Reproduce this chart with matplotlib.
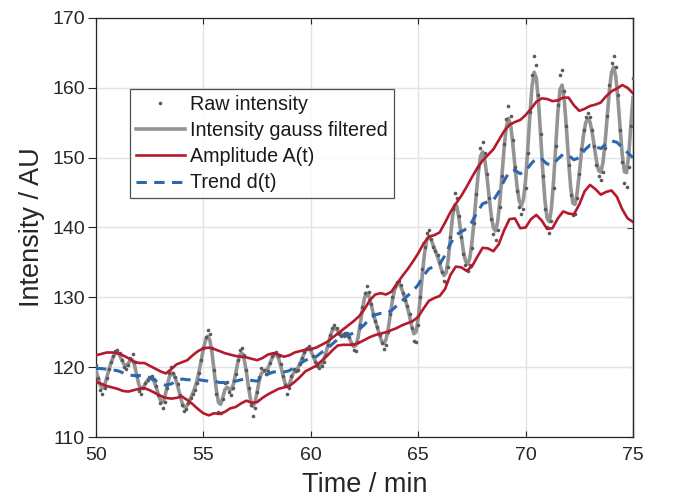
import numpy as np
import matplotlib
matplotlib.use("Agg")
import matplotlib.pyplot as plt

plt.rcParams['font.family'] = ['Liberation Sans', 'DejaVu Sans']

# ---- data ----
raw_start, raw_step = 50.0, 0.1
raw_intensity = [
    120.3, 118.5, 116.8, 116.2, 117.0, 118.5, 119.8, 120.8, 121.6, 122.3,
    122.5, 122.0, 121.0, 120.0, 119.8, 120.3, 121.3, 121.9, 120.8, 118.8,
    116.6, 116.2, 117.0, 117.8, 118.2, 118.6, 118.8, 118.3, 117.3, 116.0,
    114.9, 114.2, 115.0, 117.0, 119.2, 120.0, 119.2, 118.6, 117.6, 116.0,
    114.6, 113.7, 114.0, 114.8, 115.6, 116.2, 116.8, 117.8, 119.2, 121.0,
    122.8, 124.3, 125.3, 124.8, 122.8, 119.6, 116.2, 113.6, 113.5, 115.5,
    117.8, 117.9, 116.4, 116.0, 117.0, 119.0, 121.0, 122.5, 122.8, 121.8,
    119.6, 117.0, 114.6, 113.0, 114.2, 116.4, 118.6, 119.9, 119.6, 119.0,
    119.4, 120.6, 121.6, 122.1, 122.2, 121.6, 120.4, 118.8, 117.4, 116.2,
    117.0, 118.8, 119.8, 119.4, 119.6, 120.4, 121.3, 122.2, 122.8, 123.0,
    122.6, 121.6, 120.8, 120.2, 119.9, 120.2, 120.8, 121.8, 123.2, 124.6,
    125.6, 126.1, 125.6, 124.8, 124.5, 124.6, 124.9, 124.9, 124.3, 123.3,
    122.5, 122.3, 123.6, 126.0, 128.6, 130.6, 131.6, 130.8, 129.0, 127.6,
    126.6, 125.8, 124.6, 123.4, 122.6, 123.2, 125.0, 127.6, 130.0, 131.6,
    132.2, 132.4, 131.8, 130.6, 129.6, 128.8, 127.6, 125.6, 123.8, 123.6,
    126.0, 130.0, 134.0, 137.2, 139.2, 139.6, 138.4, 137.2, 136.6, 136.0,
    135.0, 133.6, 132.4, 132.2, 134.4, 138.6, 142.6, 144.9, 144.2, 141.6,
    138.6, 136.2, 134.6, 133.8, 134.6, 137.0, 140.6, 144.8, 148.6, 151.4,
    152.3, 150.6, 147.6, 144.2, 141.2, 139.0, 138.2, 139.6, 143.0, 147.4,
    152.0, 155.6, 157.4, 156.0, 152.6, 148.6, 145.2, 143.0, 142.0, 142.6,
    145.6, 150.6, 156.6, 161.8, 164.6, 163.2, 159.0, 153.4, 147.4, 142.6,
    140.0, 139.2, 141.0, 145.6, 151.6, 157.6, 161.8, 162.6, 159.6, 154.6,
    149.0, 144.6, 141.8, 142.0, 144.2, 147.6, 151.2, 154.0, 155.8, 156.4,
    155.8, 154.0, 151.6, 149.0, 147.4, 146.8, 148.0, 151.4, 156.0, 160.4,
    163.6, 164.6, 163.0, 159.0, 154.0, 149.4, 146.4, 145.8, 148.6, 154.6,
    161.4,
]

env_start, env_step = 50.0, 0.25
amp_upper = [
    121.7, 121.9, 122.1, 122.1, 122.0, 121.7, 121.3, 120.8, 120.6, 120.6,
    120.2, 119.8, 119.4, 119.1, 119.7, 120.4, 120.7, 121.0, 121.7, 122.3,
    122.7, 122.8, 122.6, 122.3, 122.0, 121.8, 121.6, 121.5, 121.4, 121.2,
    121.0, 121.3, 121.8, 122.0, 121.8, 121.5, 121.7, 122.1, 122.3, 122.5,
    122.6, 122.8, 123.2, 123.6, 124.2, 124.8, 125.4, 126.0, 126.6, 127.3,
    128.3, 129.6, 130.4, 130.6, 130.4, 130.8, 131.9, 133.0, 134.0, 135.1,
    136.3, 137.7, 138.7, 138.9, 139.3, 140.7, 142.2, 143.4, 144.5, 145.8,
    147.2, 148.5, 149.6, 150.4, 151.2, 152.5, 153.8, 154.7, 155.1, 155.4,
    156.1, 157.0, 158.0, 158.5, 158.4, 158.1, 158.2, 158.6, 158.6, 157.5,
    156.7, 157.0, 157.4, 157.6, 157.9, 158.8, 159.5, 159.9, 160.4, 160.0,
    159.2,
]
amp_lower = [
    117.9, 117.6, 117.3, 117.1, 116.9, 116.6, 116.5, 116.7, 116.9, 117.0,
    116.7, 116.3, 115.9, 115.6, 115.5, 115.6, 115.8, 115.3, 114.7, 114.0,
    113.4, 113.1, 113.4, 113.3, 113.6, 114.1, 114.3, 114.8, 115.2, 114.9,
    115.0, 115.6, 116.1, 116.5, 116.9, 117.1, 117.3, 117.9, 118.6, 119.4,
    119.8, 120.2, 120.9, 121.6, 122.4, 123.1, 123.2, 123.2, 123.2, 123.5,
    123.9, 124.3, 124.6, 124.8, 125.0, 125.3, 125.6, 126.0, 126.3, 126.6,
    127.2, 128.4, 129.5, 129.9, 130.2, 131.2, 133.2, 134.4, 134.3, 133.8,
    134.4, 135.8, 137.1, 137.0, 136.6, 137.6, 139.6, 141.2, 141.3, 139.9,
    140.0, 141.2, 141.8, 141.0, 139.8, 139.9, 141.3, 142.3, 142.0, 141.9,
    143.3, 145.2, 146.1, 145.5, 144.7, 145.1, 145.3, 144.4, 142.6, 141.3,
    140.8,
]
trend = [
    119.8, 119.8, 119.7, 119.6, 119.5, 119.2, 118.9, 118.8, 118.8, 118.8,
    118.5, 118.1, 117.7, 117.4, 117.6, 118.0, 118.3, 118.2, 118.2, 118.2,
    118.1, 118.0, 118.0, 117.8, 117.8, 118.0, 118.0, 118.2, 118.3, 118.1,
    118.0, 118.5, 119.0, 119.3, 119.4, 119.3, 119.5, 120.0, 120.5, 121.0,
    121.2, 121.5, 122.1, 122.6, 123.3, 124.0, 124.3, 124.6, 124.9, 125.4,
    126.1, 127.0, 127.5, 127.7, 127.7, 128.1, 128.8, 129.5, 130.2, 130.9,
    131.8, 133.1, 134.1, 134.4, 134.8, 136.0, 137.7, 138.9, 139.4, 139.8,
    140.8, 142.2, 143.4, 143.7, 143.9, 145.1, 146.7, 148.0, 148.2, 147.7,
    148.1, 149.1, 149.9, 149.8, 149.1, 149.0, 149.8, 150.5, 150.3, 149.7,
    150.0, 151.1, 151.8, 151.6, 151.3, 152.0, 152.4, 152.2, 151.5, 150.7,
    150.0,
]

raw_t = raw_start + raw_step * np.arange(len(raw_intensity))
env_t = env_start + env_step * np.arange(len(amp_upper))


def gauss_filter(y, sigma):
    r = int(4 * sigma + 0.5)
    k = np.exp(-0.5 * (np.arange(-r, r + 1) / sigma) ** 2)
    k /= k.sum()
    yp = np.pad(np.asarray(y, float), r, mode='edge')
    return np.convolve(yp, k, mode='valid')


filtered = gauss_filter(raw_intensity, 1.15)

fig = plt.figure(figsize=(6.75, 4.97), dpi=100)
ax = fig.add_axes([96 / 675, 1 - 437 / 497, (633 - 96) / 675, (437 - 18) / 497])

red = '#b5192d'
blue = '#2a68b0'
axcol = '#262626'

ax.plot(raw_t, raw_intensity, 'o', ms=2.6, color='#5a5a5a', mec='none',
        label='Raw intensity', zorder=4)
ax.plot(raw_t, filtered, '-', lw=2.6, color='#949494',
        label='Intensity gauss filtered', zorder=3)
ax.plot(env_t, amp_upper, '-', lw=1.9, color=red, label='Amplitude A(t)', zorder=5)
ax.plot(env_t, amp_lower, '-', lw=1.9, color=red, zorder=5)
ax.plot(env_t, trend, '--', lw=2.2, color=blue, dashes=(3.4, 2.4),
        label='Trend d(t)', zorder=6)

ax.set_xlim(50, 75)
ax.set_ylim(110, 170)
ax.set_xticks([50, 55, 60, 65, 70, 75])
ax.set_yticks([110, 120, 130, 140, 150, 160, 170])
ax.grid(True, color='#e3e3e3', lw=1.0)
ax.set_axisbelow(True)
ax.tick_params(axis='x', direction='in', length=4, width=0.8, labelsize=14,
               top=True, colors=axcol, pad=7)
ax.tick_params(axis='y', direction='out', length=6, width=0.8, labelsize=14,
               colors=axcol, pad=2)
sec = ax.secondary_yaxis('right')
sec.set_yticks([110, 120, 130, 140, 150, 160, 170])
sec.tick_params(direction='in', length=4, width=0.8, labelright=False, colors=axcol)
sec.spines['right'].set_color(axcol)
sec.spines['right'].set_linewidth(0.9)
for s in ax.spines.values():
    s.set_color(axcol)
    s.set_linewidth(0.9)

ax.set_xlabel('Time / min', fontsize=19.5, labelpad=6, color=axcol)
ax.set_ylabel('Intensity / AU', fontsize=19.5, labelpad=5, color=axcol)

leg = ax.legend(loc='upper left', bbox_to_anchor=(0.063, 0.83), fontsize=14.2,
                frameon=True, fancybox=False, edgecolor=axcol,
                handlelength=2.5, handletextpad=0.25, borderpad=0.3,
                labelspacing=0.36, borderaxespad=0, markerscale=1.0)
leg.get_frame().set_linewidth(0.9)
for t in leg.get_texts():
    t.set_color('#1a1a1a')

fig.savefig('out.png', dpi=100)
